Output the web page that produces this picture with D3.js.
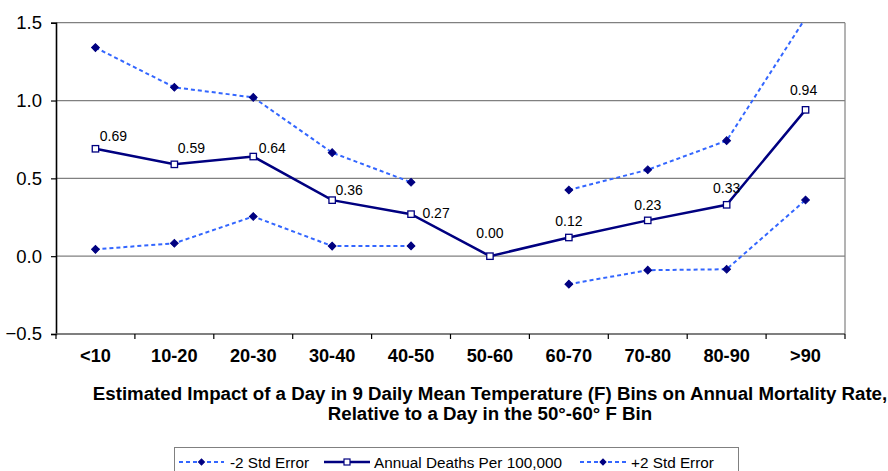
<!DOCTYPE html>
<html>
<head>
<meta charset="utf-8">
<script src="https://cdn.jsdelivr.net/npm/d3@7"></script>
<style>
  body { margin: 0; background: #fff; }
  svg { display: block; font-family: "Liberation Sans", Arial, sans-serif; }
</style>
</head>
<body>
<div class="chart"></div>
<script>
// data
const categories = ['<10', '10-20', '20-30', '30-40', '40-50', '50-60', '60-70', '70-80', '80-90', '>90']
const annualDeaths = [0.69, 0.59, 0.64, 0.36, 0.27, 0.00, 0.12, 0.23, 0.33, 0.94]
const plusTwoStdError = [1.34, 1.085, 1.02, 0.665, 0.475, null, 0.425, 0.555, 0.742, 1.53]
const minusTwoStdError = [0.044, 0.083, 0.255, 0.065, 0.066, null, -0.18, -0.09, -0.084, 0.361]
const yTicks = [-0.5, 0.0, 0.5, 1.0, 1.5]
const dataLabels = ['0.69', '0.59', '0.64', '0.36', '0.27', '0.00', '0.12', '0.23', '0.33', '0.94']
// label nudges (dx, dy) relative to the point, as placed in the original
const labelNudge = [[18, -8], [17, -11], [19, -4], [17, -5], [25, 4], [0, -18], [0, -11], [0, -10], [0, -12], [-2, -15]]

const width = 888, height = 471
const plot = {left: 56, right: 845, top: 22.7, bottom: 334}

const navy = '#000080'
const dotBlue = '#3366ff'
const grid = '#808080'

var svg = d3.select('.chart').append('svg')
    .attr('width', width)
    .attr('height', height)

var x = d3.scaleBand()
    .domain(categories)
    .range([plot.left, plot.right])
    .padding(0)
var y = d3.scaleLinear()
    .domain([-0.5, 1.5])
    .range([plot.bottom, plot.top])

var cx = function(i) { return x(categories[i]) + x.bandwidth() / 2 }

svg.append('clipPath').attr('id', 'plotClip')
  .append('rect')
    .attr('x', plot.left).attr('y', plot.top)
    .attr('width', plot.right - plot.left)
    .attr('height', plot.bottom - plot.top)

// gridlines + frame
svg.append('g').selectAll('line')
  .data(yTicks.filter(function(t) { return t > -0.5 }))
  .enter().append('line')
    .attr('x1', plot.left).attr('x2', plot.right)
    .attr('y1', function(d) { return y(d) }).attr('y2', function(d) { return y(d) })
    .attr('stroke', grid).attr('stroke-width', 1.2)
svg.append('line')
    .attr('x1', plot.right).attr('x2', plot.right)
    .attr('y1', plot.top).attr('y2', plot.bottom)
    .attr('stroke', grid).attr('stroke-width', 1.2)

// y axis
var yAxis = svg.append('g')
    .attr('transform', 'translate(' + plot.left + ',0)')
    .call(d3.axisLeft(y).tickValues(yTicks).tickFormat(d3.format('.1f')).tickSize(5).tickPadding(9))
yAxis.select('.domain').attr('stroke', '#000').attr('stroke-width', 1.6)
yAxis.selectAll('.tick line').attr('stroke', '#000').attr('stroke-width', 1.2)
yAxis.selectAll('.tick text')
    .attr('font-family', '"Liberation Sans", Arial, sans-serif')
    .attr('font-size', 18.5).attr('fill', '#000')

// x axis: ticks on category boundaries
var xAxis = svg.append('g')
    .attr('transform', 'translate(0,' + plot.bottom + ')')
xAxis.append('line')
    .attr('x1', plot.left).attr('x2', plot.right)
    .attr('stroke', '#555').attr('stroke-width', 1.6)
xAxis.selectAll('.xtick')
  .data(categories.concat(['end']))
  .enter().append('line')
    .attr('class', 'xtick')
    .attr('x1', function(d, i) { return plot.left + i * x.bandwidth() })
    .attr('x2', function(d, i) { return plot.left + i * x.bandwidth() })
    .attr('y1', 0).attr('y2', 5)
    .attr('stroke', '#000').attr('stroke-width', 1.2)
xAxis.selectAll('.xlab')
  .data(categories)
  .enter().append('text')
    .attr('class', 'xlab')
    .attr('x', function(d) { return x(d) + x.bandwidth() / 2 })
    .attr('y', 28)
    .attr('text-anchor', 'middle')
    .attr('font-size', 18.2).attr('font-weight', 'bold')
    .text(function(d) { return d })

// axis title
var title = svg.append('text')
    .attr('text-anchor', 'middle')
    .attr('font-size', 18.7).attr('font-weight', 'bold')
title.append('tspan').attr('x', 490).attr('y', 400)
    .text('Estimated Impact of a Day in 9 Daily Mean Temperature (F) Bins on Annual Mortality Rate,')
title.append('tspan').attr('x', 490).attr('y', 420)
    .text('Relative to a Day in the 50°-60° F Bin')

// series
var series = svg.append('g').attr('clip-path', 'url(#plotClip)')

var line = d3.line()
    .defined(function(d) { return d != null })
    .x(function(d, i) { return cx(i) })
    .y(function(d) { return y(d) })

// square rotated 45° = even diamond
var diamond = d3.symbol().type(d3.symbolSquare).size(30)
var smallDiamond = d3.symbol().type(d3.symbolSquare).size(18)

var drawStdError = function(values) {
  series.append('path')
      .datum(values)
      .attr('d', line)
      .attr('fill', 'none')
      .attr('stroke', dotBlue).attr('stroke-width', 2)
      .attr('stroke-dasharray', '4,3')
  var pts = values.map(function(v, i) { return {v: v, i: i} })
      .filter(function(d) { return d.v != null && d.v <= 1.5 })
  series.selectAll(null)
    .data(pts)
    .enter().append('path')
      .attr('d', diamond)
      .attr('transform', function(d) { return 'translate(' + cx(d.i) + ',' + y(d.v) + ') rotate(45)' })
      .attr('fill', navy).attr('stroke', navy).attr('stroke-width', 1)
}

drawStdError(plusTwoStdError)
drawStdError(minusTwoStdError)

series.append('path')
    .datum(annualDeaths)
    .attr('d', line)
    .attr('fill', 'none')
    .attr('stroke', navy).attr('stroke-width', 2.5)

series.selectAll('.sq')
  .data(annualDeaths)
  .enter().append('rect')
    .attr('class', 'sq')
    .attr('x', function(d, i) { return cx(i) - 3.2 })
    .attr('y', function(d) { return y(d) - 3.2 })
    .attr('width', 6.4).attr('height', 6.4)
    .attr('fill', '#fff').attr('stroke', navy).attr('stroke-width', 1.3)

svg.selectAll('.dlab')
  .data(annualDeaths)
  .enter().append('text')
    .attr('class', 'dlab')
    .attr('x', function(d, i) { return cx(i) + labelNudge[i][0] })
    .attr('y', function(d, i) { return y(d) + labelNudge[i][1] })
    .attr('text-anchor', 'middle')
    .attr('font-size', 14).attr('fill', '#000')
    .text(function(d, i) { return dataLabels[i] })

// legend
var legend = svg.append('g')
legend.append('rect')
    .attr('x', 174.5).attr('y', 447.5)
    .attr('width', 564).attr('height', 40)
    .attr('fill', '#fff').attr('stroke', grid).attr('stroke-width', 1)

var legendItems = [
  {name: '-2 Std Error', x0: 179, x1: 224, text: 230, dashed: true},
  {name: 'Annual Deaths Per 100,000', x0: 324, x1: 370, text: 374, dashed: false},
  {name: '+2 Std Error', x0: 580, x1: 626, text: 631, dashed: true}
]
var ly = 462
legendItems.forEach(function(it) {
  legend.append('line')
      .attr('x1', it.x0).attr('x2', it.x1).attr('y1', ly).attr('y2', ly)
      .attr('stroke', it.dashed ? dotBlue : navy)
      .attr('stroke-width', it.dashed ? 2 : 2.5)
      .attr('stroke-dasharray', it.dashed ? '4,3' : null)
  var mx = (it.x0 + it.x1) / 2
  if (it.dashed) {
    legend.append('path').attr('d', smallDiamond)
        .attr('transform', 'translate(' + mx + ',' + ly + ') rotate(45)')
        .attr('fill', navy).attr('stroke', navy).attr('stroke-width', 1)
  } else {
    legend.append('rect')
        .attr('x', mx - 3).attr('y', ly - 3).attr('width', 6).attr('height', 6)
        .attr('fill', '#fff').attr('stroke', navy).attr('stroke-width', 1.2)
  }
  legend.append('text')
      .attr('x', it.text).attr('y', ly + 5.5)
      .attr('font-size', 15.3).attr('fill', '#000')
      .text(it.name)
})
</script>
</body>
</html>
